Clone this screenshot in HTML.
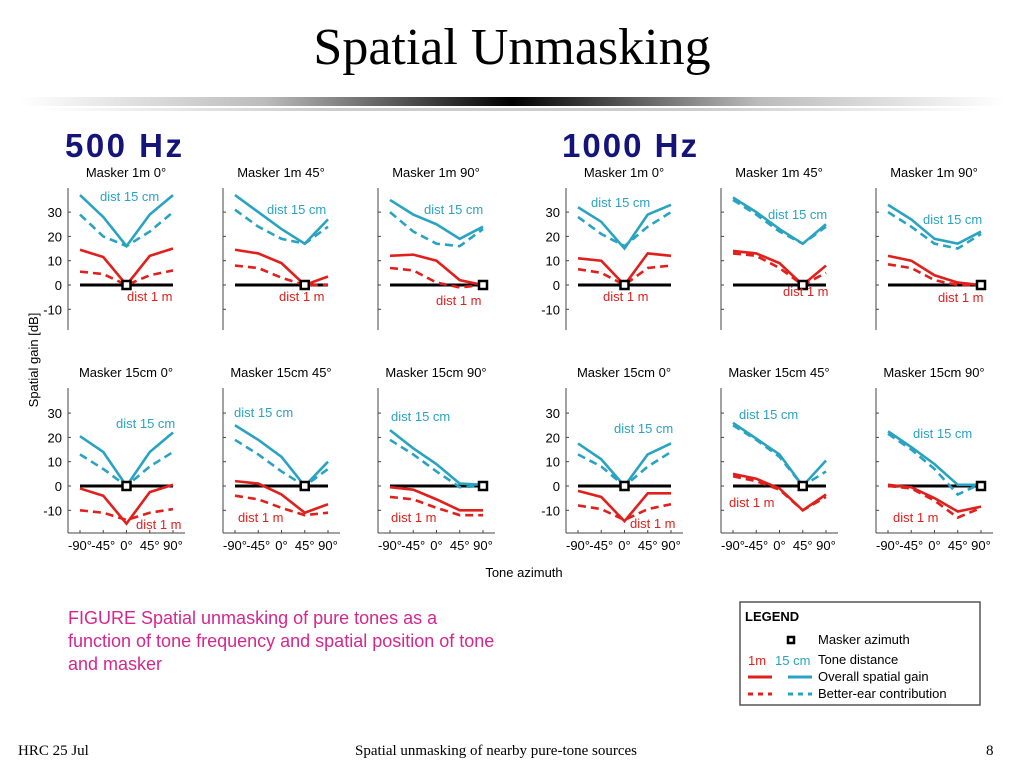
<!DOCTYPE html>
<html><head><meta charset="utf-8"><style>
body{margin:0;width:1024px;height:768px;background:#fff;overflow:hidden;position:relative;font-family:"Liberation Sans",sans-serif}
.t{position:absolute;white-space:nowrap}
</style></head><body>
<div class="t" style="left:0;width:1024px;text-align:center;top:18px;font:52px 'Liberation Serif',serif;color:#000">Spatial Unmasking</div>
<div style="position:absolute;left:20px;top:97px;width:984px;height:9px;background:linear-gradient(90deg,#fff,#bbb 25%,#000 50%,#bbb 75%,#fff)"></div>
<div style="position:absolute;left:40px;top:108px;width:944px;height:3px;background:linear-gradient(90deg,#fff,#ccc 30%,#ccc 70%,#fff)"></div>
<svg id="fig" width="1024" height="768" style="position:absolute;left:0;top:0"></svg>
<div class="t" style="left:18px;top:743px;font:15px 'Liberation Serif',serif">HRC 25 Jul</div>
<div class="t" style="left:355px;top:743px;font:15px 'Liberation Serif',serif">Spatial unmasking of nearby pure-tone sources</div>
<div class="t" style="left:986px;top:743px;font:15px 'Liberation Serif',serif">8</div>
<script>
const azimuths=[-90,-45,0,45,90];
const panelTitles=["Masker 1m 0°","Masker 1m 45°","Masker 1m 90°","Masker 1m 0°","Masker 1m 45°","Masker 1m 90°","Masker 15cm 0°","Masker 15cm 45°","Masker 15cm 90°","Masker 15cm 0°","Masker 15cm 45°","Masker 15cm 90°"];
const maskerAz=[0,45,90,0,45,90,0,45,90,0,45,90];
const near15Solid=[[37,28,16,29,37],[37,30,23,17,27],[35,29,25,19,24],[32,26,15,29,33],[36,30,23,17,25],[33,27,19,17,22],[20.5,14,0,14,22],[25,19,12,0,10],[23,15.5,9,1,0.5],[17.5,11,0,13,17.5],[26,19.5,13,0,10.5],[22.5,16,9,0.5,0.5]];
const near15Dash=[[29,20,16,22,30],[31,24,19,17,24],[30,22,17,16,23],[28,21,16,24,30],[35,29,22,17,24],[30,24,17,15,21],[13,7,0,8,14],[19,13,6,0,7],[19,13,6,-0.5,0],[13,8,0,8,14],[25,19,12,0,6],[21.5,15,7,-3.5,1]];
const far1Solid=[[14.5,11.5,0,12,15],[14.5,13,9,0,3.5],[12,12.5,10,2,0],[11,10,0,13,12],[14,13,9,0,8],[12,10,4,1,0],[-1,-4,-15.5,-2.5,0.5],[2,1,-3.5,-11,-7.5],[-0.5,-1.5,-5.5,-10,-10],[-2,-4.5,-14.5,-3,-3],[5,3,-1,-10,-3.5],[0.5,-0.5,-5,-10.5,-8.5]];
const far1Dash=[[5.5,4.5,0,4,6],[8,7,3,0,0],[7,6,1,-1,0],[6.5,5,0,7,8],[13,12,7,0,5],[8.5,7,2,0,0],[-10,-11,-14,-11,-9.5],[-4,-5.5,-9,-12,-11],[-4.5,-5.5,-9,-12,-12],[-8,-9.5,-14,-9.5,-7.5],[4,2,-1.5,-10,-4.5],[0,-1,-6,-13,-9]];
const yTicks=[30,20,10,0,-10];
const xTickLabels=["-90°","-45°","0°","45°","90°"];
const colX=[80,235,390,578,733,888];
const blueLbl=[[100,196],[267,209],[424,209],[591,202],[768,214],[923,219],[116,423],[234,412],[391,416],[614,428],[739,414],[913,433]];
const redLbl=[[127,296],[279,296],[436,300],[603,296],[783,291],[938,297],[136,524],[238,517],[391,517],[630,523],[729,502],[893,517]];
const BLUE="#2aa3c2",RED="#e0201c";
const svg=document.getElementById('fig');const NS="http://www.w3.org/2000/svg";
function mk(t,a,p){const e=document.createElementNS(NS,t);for(const k in a)e.setAttribute(k,a[k]);(p||svg).appendChild(e);return e;}
function txt(x,y,s,a,p){const e=mk('text',Object.assign({x:x,y:y,'font-family':'Liberation Sans, sans-serif','font-size':13},a),p);e.textContent=s;return e;}
const rows=[{zero:285,top:188,bot:330,title:177},{zero:486,top:388,bot:533,title:377}];
for(let i=0;i<12;i++){
  const r=rows[Math.floor(i/6)],c=i%6,x0=colX[c];
  const g=mk('g',{});
  
  
  const xs=a=>x0+(a+90)/180*93;
  const ys=v=>r.zero-v*2.43;
  const ax=x0-12;
  const t=txt(x0+46,r.title,panelTitles[i],{'text-anchor':'middle'},g);
  const yl=mk('line',{x1:ax,x2:ax,y1:r.top,y2:r.bot,stroke:'#444','stroke-width':1},g);
  yTicks.forEach(v=>{mk('line',{x1:ax,x2:ax+3,y1:ys(v),y2:ys(v),stroke:'#444'},g);
    if(c==0||c==3){const tl=txt(ax-6,ys(v)+5,String(v),{'text-anchor':'end','font-size':13},g);}});
  if(r.zero>400){const xl=mk('line',{x1:ax,x2:xs(90)+12,y1:r.bot,y2:r.bot,stroke:'#444'},g);
    azimuths.forEach((a,k)=>{mk('line',{x1:xs(a),x2:xs(a),y1:r.bot,y2:r.bot-3,stroke:'#444'},g);const tl=txt(xs(a),r.bot+17,xTickLabels[k],{'text-anchor':'middle'},g);});}
  const z=mk('line',{x1:xs(-90),x2:xs(90),y1:ys(0),y2:ys(0),stroke:'#000','stroke-width':3},g);
  const series=[[near15Dash[i],BLUE,'8,5','better-ear-15cm'],[far1Dash[i],RED,'8,5','better-ear-1m'],[near15Solid[i],BLUE,'','overall-gain-15cm'],[far1Solid[i],RED,'','overall-gain-1m']];
  series.forEach(s=>{const pts=s[0].map((v,k)=>xs(azimuths[k])+','+ys(v)).join(' ');
    const pl=mk('polyline',{points:pts,fill:'none',stroke:s[1],'stroke-width':2.6,'stroke-dasharray':s[2]},g);});
  const m=mk('rect',{x:xs(maskerAz[i])-4,y:ys(0)-4,width:8,height:8,fill:'#fff',stroke:'#000','stroke-width':2.5},g);
  const b=txt(blueLbl[i][0],blueLbl[i][1]+5,'dist 15 cm',{fill:BLUE},g);
  const rd=txt(redLbl[i][0],redLbl[i][1]+5,'dist 1 m',{fill:RED},g);
}
let e;
e=txt(65,157,'500 Hz',{'font-size':33,'font-weight':'bold',fill:'#14147a',textLength:117});
e=txt(562,157,'1000 Hz',{'font-size':33,'font-weight':'bold',fill:'#14147a',textLength:135});
e=txt(0,0,'Spatial gain [dB]',{'text-anchor':'middle',transform:'translate(38,360) rotate(-90)'});
e=txt(524,577,'Tone azimuth',{'text-anchor':'middle'});
['FIGURE Spatial unmasking of pure tones as a','function of tone frequency and spatial position of tone','and masker'].forEach((s,k)=>{e=txt(68,624+k*23,s,{'font-size':18,fill:'#d4278e'});});
e=mk('rect',{x:740,y:602,width:240,height:103,fill:'#fff',stroke:'#555','stroke-width':1.5});
e=txt(745,621,'LEGEND',{'font-weight':'bold','font-size':13});
mk('rect',{x:788,y:637,width:6,height:6,fill:'#fff',stroke:'#000','stroke-width':2.5});
e=txt(818,644,'Masker azimuth',{});
txt(748,665,'1m',{fill:RED});txt(775,665,'15 cm',{fill:BLUE});
e=txt(818,664,'Tone distance',{});
mk('line',{x1:748,x2:772,y1:677,y2:677,stroke:RED,'stroke-width':3});mk('line',{x1:788,x2:812,y1:677,y2:677,stroke:BLUE,'stroke-width':3});
e=txt(818,681,'Overall spatial gain',{});
mk('line',{x1:748,x2:772,y1:694,y2:694,stroke:RED,'stroke-width':3,'stroke-dasharray':'5,5'});mk('line',{x1:788,x2:812,y1:694,y2:694,stroke:BLUE,'stroke-width':3,'stroke-dasharray':'5,5'});
e=txt(818,698,'Better-ear contribution',{});
</script>
</body></html>
